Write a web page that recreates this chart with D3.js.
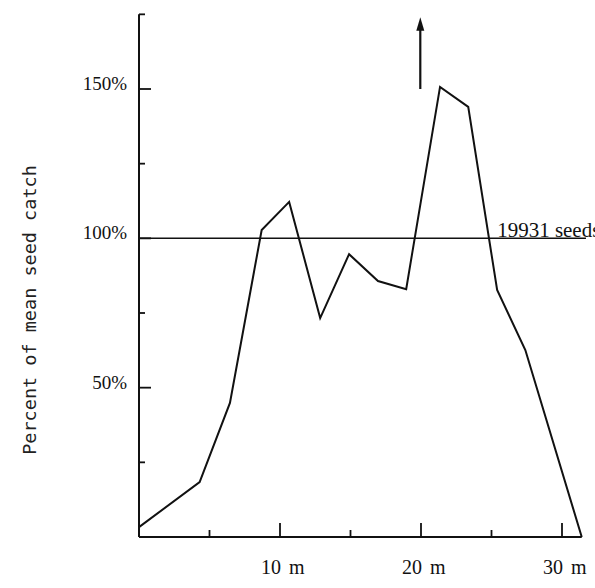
<!DOCTYPE html>
<html>
<head>
<meta charset="utf-8">
<script src="https://d3js.org/d3.v7.min.js"></script>
<style>
  body { margin: 0; background: #fff; }
</style>
</head>
<body>
<div id="my_dataviz"></div>
<script>
// data
var distance = [0, 4.3, 6.45, 8.7, 10.65, 12.85, 14.9, 16.95, 18.95, 21.35, 23.35, 25.4, 27.4, 31.4];
var percent  = [3.3, 18.4, 44.9, 102.8, 112.2, 73.3, 94.7, 85.7, 83.0, 150.7, 144.0, 82.7, 62.6, 0];
var yTicks = [25, 50, 75, 100, 125, 150, 175];
var yLabels = [50, 100, 150];
var xTicks = [5, 10, 15, 20, 25, 30];
var xLabels = [10, 20, 30];
var meanLine = 100;
var meanText = "19931 seeds";

var width = 595, height = 588;

var svg = d3.select("#my_dataviz")
    .append("svg")
    .attr("width", width)
    .attr("height", height);

// scales
var x = d3.scaleLinear()
    .domain([0, 30])
    .range([139, 562]);
var y = d3.scaleLinear()
    .domain([0, 150])
    .range([537, 89]);

var ink = "#111";

// y axis line
svg.append("line")
    .attr("x1", x(0)).attr("x2", x(0))
    .attr("y1", y(0)).attr("y2", y(175))
    .attr("stroke", ink).attr("stroke-width", 2);

// y ticks (pointing inward)
svg.selectAll(".ytick")
    .data(yTicks)
    .enter().append("line")
    .attr("x1", x(0))
    .attr("x2", function(d) { return x(0) + (yLabels.indexOf(d) >= 0 ? 12 : 6); })
    .attr("y1", function(d) { return y(d); })
    .attr("y2", function(d) { return y(d); })
    .attr("stroke", ink).attr("stroke-width", 1.8);

svg.selectAll(".ylab")
    .data(yLabels)
    .enter().append("text")
    .attr("x", 127)
    .attr("y", function(d) { return y(d) + 1; })
    .attr("text-anchor", "end")
    .attr("font-family", "Liberation Serif")
    .attr("font-size", 19)
    .attr("fill", ink)
    .text(function(d) { return d + "%"; });

// x axis line
svg.append("line")
    .attr("x1", x(0)).attr("x2", x(31.4))
    .attr("y1", y(0)).attr("y2", y(0))
    .attr("stroke", ink).attr("stroke-width", 2);

svg.selectAll(".xtick")
    .data(xTicks)
    .enter().append("line")
    .attr("x1", function(d) { return x(d); })
    .attr("x2", function(d) { return x(d); })
    .attr("y1", y(0))
    .attr("y2", function(d) { return y(0) - (xLabels.indexOf(d) >= 0 ? 14 : 7); })
    .attr("stroke", ink).attr("stroke-width", 1.8);

svg.selectAll(".xlab")
    .data(xLabels)
    .enter().append("text")
    .attr("x", function(d) { return x(d) - 19; })
    .attr("y", 574)
    .attr("font-family", "Liberation Serif")
    .attr("font-size", 20)
    .attr("word-spacing", 3)
    .attr("fill", ink)
    .text(function(d) { return d + " m"; });

// y axis title
svg.append("text")
    .attr("transform", "translate(36,310) rotate(-90)")
    .attr("text-anchor", "middle")
    .attr("font-family", "DejaVu Sans Mono")
    .attr("font-size", 18.5)
    .attr("fill", "#222")
    .text("Percent of mean seed catch");

// mean reference line
svg.append("line")
    .attr("x1", x(0)).attr("x2", x(31.7))
    .attr("y1", y(meanLine)).attr("y2", y(meanLine))
    .attr("stroke", ink).attr("stroke-width", 1.5);

svg.append("text")
    .attr("x", x(25.4))
    .attr("y", y(meanLine) - 1)
    .attr("font-family", "Liberation Serif")
    .attr("font-size", 21)
    .attr("fill", ink)
    .text(meanText);

// seed catch line
var pts = distance.map(function(d, i) { return [d, percent[i]]; });
svg.append("path")
    .datum(pts)
    .attr("fill", "none")
    .attr("stroke", ink)
    .attr("stroke-width", 2)
    .attr("stroke-linejoin", "miter")
    .attr("d", d3.line()
        .x(function(d) { return x(d[0]); })
        .y(function(d) { return y(d[1]); }));

// arrow above the peak
var ax = x(19.95);
svg.append("line")
    .attr("x1", ax).attr("x2", ax)
    .attr("y1", y(150)).attr("y2", y(170))
    .attr("stroke", ink).attr("stroke-width", 2.2);
svg.append("path")
    .attr("d", "M" + (ax - 4) + "," + y(169.5) + "L" + ax + "," + y(174) + "L" + (ax + 4) + "," + y(169.5) + "Z")
    .attr("fill", ink);
</script>
</body>
</html>
